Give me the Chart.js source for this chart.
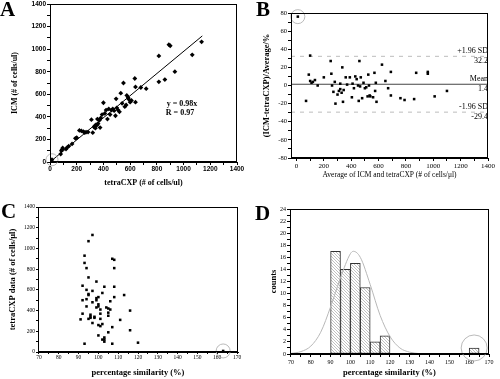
<!DOCTYPE html>
<html>
<head>
<meta charset="utf-8">
<script src="https://cdn.jsdelivr.net/npm/chart.js@4.4.1/dist/chart.umd.min.js"></script>
<style>
  html, body { margin: 0; padding: 0; background: #fff; }
  #wrap { position: relative; width: 500px; height: 379px; overflow: hidden; }
  .panel { position: absolute; }
</style>
</head>
<body>
<div id="wrap">
  <div class="panel" style="left:0;top:0;width:250px;height:190px"><canvas id="cA"></canvas></div>
  <div class="panel" style="left:250px;top:0;width:250px;height:190px"><canvas id="cB"></canvas></div>
  <div class="panel" style="left:0;top:190px;width:250px;height:189px"><canvas id="cC"></canvas></div>
  <div class="panel" style="left:250px;top:190px;width:250px;height:189px"><canvas id="cD"></canvas></div>
</div>
<script>
// A: ICM vs tetraCXP (cells/ul)
const tetraA = [15, 80, 85, 90, 95, 120, 130, 140, 165, 190, 200, 220, 235, 250, 260, 270, 285, 310, 320, 330,
  335, 340, 345, 350, 355, 360, 370, 375, 380, 390, 400, 410, 420, 430, 440, 450, 460, 470, 480, 490,
  495, 500, 510, 520, 530, 540, 550, 560, 570, 575, 585, 590, 600, 610, 635, 640, 640, 680, 720, 815,
  815, 860, 890, 900, 935, 1065, 1135];
const icmA = [20, 70, 100, 110, 125, 115, 130, 140, 160, 210, 215, 280, 275, 270, 260, 265, 265, 375, 260, 310,
  320, 300, 330, 325, 380, 340, 370, 305, 390, 420, 525, 430, 460, 380, 470, 420, 460, 470, 455, 410,
  560, 480, 460, 445, 610, 520, 700, 490, 505, 590, 570, 555, 530, 545, 740, 665, 530, 660, 650, 940,
  710, 730, 1040, 1030, 800, 950, 1065];
const fitX = [0, 1140];
const fitY = [0, 1117];
const fitText = ['y = 0.98x', 'R = 0.97'];
const outlierA = [15, 20];

// B: Bland-Altman
const avgB = [10, 70, 90, 100, 100, 110, 120, 135, 155, 200, 250, 255, 260, 270, 280, 285, 300, 310, 320, 320,
  330, 335, 340, 345, 360, 370, 390, 405, 410, 420, 430, 440, 450, 455, 460, 465, 470, 480, 490, 500,
  510, 520, 525, 530, 535, 540, 560, 570, 575, 580, 585, 625, 650, 670, 690, 690, 760, 790, 860, 875,
  960, 960, 1010, 1100];
const diffB = [76, -17, 12, 33, 5, 3, 4, 6, 0, 9, 27, 13, 0, -7, 4, -20, -10, -6, 2, -4,
  -8, 20, -18, -5, 9, 1, 9, -13, 2, -3, 10, 7, 0, -17, 27, -1, 9, -14, 3, -3,
  -2, -12, 12, 0, -11, -12, -13, 14, -6, 3, -18, 23, 5, -3, -11, 15, -14, -16, -15, 14,
  15, 13, -12, -6];
const bandNames = ['+1.96 SD', 'Mean', '-1.96 SD'];
const bandValues = [32.2, 1.4, -29.4];
const bandSpan = [-40, 1400];
const outlierB = [10, 76];

// C: tetraCXP vs percentage similarity
const simC = [163, 91, 92, 92, 92, 93, 93, 93, 94, 94, 94, 94, 95, 95, 95, 95, 95, 96, 96, 96,
  97, 97, 97, 97, 98, 98, 99, 99, 99, 99, 100, 100, 100, 100, 100, 101, 101, 101, 101, 102,
  102, 102, 103, 103, 103, 103, 104, 105, 105, 105, 105, 106, 106, 107, 107, 107, 108, 108, 108, 108,
  111, 113, 116, 116, 120];
const tetraC = [10, 315, 640, 500, 370, 80, 860, 930, 810, 510, 440, 600, 1070, 560, 550, 720, 320, 340, 360, 330,
  280, 1130, 590, 480, 330, 340, 680, 500, 520, 430, 530, 460, 440, 260, 160, 250, 370, 320, 410, 570,
  120, 270, 630, 120, 100, 140, 430, 420, 190, 350, 380, 410, 490, 80, 240, 900, 810, 890, 630, 530,
  310, 550, 400, 210, 90];
const outlierC = [163, 10];

// D: histogram of percentage similarity
const binMid = [92.5, 97.5, 102.5, 107.5, 112.5, 117.5, 162.5];
const binCount = [17, 14, 15, 11, 2, 3, 1];
const curveX = [70, 75, 80, 85, 90, 95, 100, 101.5, 105, 110, 115, 120, 125, 130, 135];
const curveY = [0.1, 0.4, 1.3, 3.6, 7.8, 12.6, 16.6, 17, 16, 11.5, 6.4, 2.9, 1.0, 0.3, 0.05];
const outlierD = [162.5, 1];

const pairs = (xs, ys) => xs.map((x, i) => ({ x, y: ys[i] }));

Chart.defaults.font.family = 'Liberation Serif';
Chart.defaults.color = '#000';
Chart.defaults.animation = false;
Chart.defaults.plugins.legend.display = false;
Chart.defaults.plugins.tooltip.enabled = false;

// full box round the plot area
Chart.register({
  id: 'frame',
  afterDraw(chart) {
    const { ctx, chartArea: a } = chart;
    ctx.save();
    ctx.strokeStyle = '#000';
    ctx.lineWidth = 1;
    ctx.strokeRect(Math.round(a.left) + 0.5, Math.round(a.top) + 0.5, Math.round(a.right - a.left) - 1, Math.round(a.bottom - a.top) - 1);
    ctx.restore();
  }
});

// grey circles round the outliers
Chart.register({
  id: 'rings',
  afterDatasetsDraw(chart, args, opts) {
    const { ctx, scales: { x, y } } = chart;
    ctx.save();
    ctx.strokeStyle = '#a8a8a8';
    ctx.lineWidth = 0.8;
    (opts.list || []).forEach(r => {
      ctx.beginPath();
      ctx.arc(x.getPixelForValue(r.at[0]), y.getPixelForValue(r.at[1]), r.r, 0, Math.PI * 2);
      ctx.stroke();
    });
    ctx.restore();
  }
});

// panel letters and loose text
Chart.register({
  id: 'notes',
  afterDraw(chart, args, opts) {
    const ctx = chart.ctx;
    ctx.save();
    ctx.fillStyle = '#000';
    (opts.items || []).forEach(t => {
      ctx.font = t.font;
      ctx.textAlign = t.align || 'left';
      ctx.textBaseline = t.base || 'middle';
      ctx.fillText(t.text, t.x, t.y);
    });
    ctx.restore();
  }
});

const fixY = w => s => { s.width = w; s.paddingTop = 0; s.paddingBottom = 0; };
const fixX = h => s => { s.height = h; s.paddingLeft = 0; s.paddingRight = 0; };

function axis(o) {
  return {
    type: 'linear',
    min: o.min,
    max: o.max,
    offset: false,
    grid: { drawOnChartArea: false, drawTicks: true, tickLength: o.tick, color: '#000', offset: false },
    border: { display: true, color: '#000', width: 1 },
    ticks: {
      stepSize: o.step,
      includeBounds: false,
      autoSkip: false,
      maxRotation: 0,
      minRotation: 0,
      padding: o.pad,
      font: o.font,
      color: '#000',
      callback: v => (Math.abs(v % o.every) < 1e-6 ? String(v) : '')
    },
    title: { display: true, text: o.title, font: o.tfont, padding: o.tpad, color: '#000' },
    afterFit: o.fit
  };
}

const letter = (text, x, y) => ({ text, x, y, font: 'bold 21px "Liberation Serif"', base: 'alphabetic' });

// ---- A ----
new Chart(document.getElementById('cA'), {
  type: 'scatter',
  data: {
    datasets: [
      { data: pairs(tetraA, icmA), pointStyle: 'rectRot', radius: 2.4, backgroundColor: '#000', borderColor: '#000', borderWidth: 0 },
      { data: pairs(fitX, fitY), showLine: true, pointRadius: 0, borderColor: '#000', borderWidth: 1 }
    ]
  },
  options: {
    responsive: true,
    maintainAspectRatio: false,
    layout: { padding: { left: 0, top: 2, right: 13, bottom: 0 } },
    scales: {
      x: axis({ min: 0, max: 1400, step: 100, every: 200, tick: 3, pad: 0,
        font: { size: 6.5, weight: 'bold', family: 'Liberation Sans' },
        title: 'tetraCXP (# of cells/ul)', tfont: { size: 8, weight: 'bold' }, tpad: { top: 0, bottom: 2 }, fit: fixX(28) }),
      y: axis({ min: 0, max: 1400, step: 100, every: 200, tick: 3, pad: 1,
        font: { size: 6.5, weight: 'bold', family: 'Liberation Sans' },
        title: 'ICM (# of cells/ul)', tfont: { size: 8, weight: 'bold' }, tpad: { top: 10, bottom: 0 }, fit: fixY(50) })
    },
    plugins: {
      rings: { list: [{ at: outlierA, r: 6 }] },
      notes: { items: [
        letter('A', 0, 16),
        { text: fitText[0], x: 182, y: 104, font: 'bold 8px "Liberation Serif"', align: 'center' },
        { text: fitText[1], x: 180, y: 113, font: 'bold 8px "Liberation Serif"', align: 'center' }
      ] }
    }
  }
});

// ---- B ----
const bandPlugin = {
  id: 'bandLabels',
  afterDatasetsDraw(chart) {
    const { ctx, chartArea: a, scales: { y } } = chart;
    ctx.save();
    ctx.font = '8px "Liberation Serif"';
    ctx.fillStyle = '#000';
    ctx.textAlign = 'right';
    bandValues.forEach((v, i) => {
      const py = y.getPixelForValue(v);
      ctx.textBaseline = 'bottom';
      ctx.fillText(bandNames[i], a.right, py - 1);
      ctx.textBaseline = 'top';
      ctx.fillText(String(v), a.right, py + 1);
    });
    ctx.restore();
  }
};

new Chart(document.getElementById('cB'), {
  type: 'scatter',
  data: {
    datasets: [
      { data: pairs(avgB, diffB), pointStyle: 'rect', radius: 1.8, backgroundColor: '#000', borderColor: '#000', borderWidth: 0 },
      ...bandValues.map((v, i) => ({
        data: pairs(bandSpan, [v, v]), showLine: true, pointRadius: 0,
        borderColor: i === 1 ? '#444' : '#bcbcbc', borderWidth: i === 1 ? 1.2 : 1,
        borderDash: i === 1 ? [] : [4, 5]
      }))
    ]
  },
  options: {
    responsive: true,
    maintainAspectRatio: false,
    layout: { padding: { left: 0, top: 13, right: 12, bottom: 0 } },
    scales: {
      x: axis({ min: bandSpan[0], max: bandSpan[1], step: 100, every: 200, tick: 3, pad: 1,
        font: { size: 7 }, title: 'Average of ICM and tetraCXP (# of cells/\u03bcl)',
        tfont: { size: 7.5 }, tpad: { top: 0, bottom: 10 }, fit: fixX(32) }),
      y: axis({ min: -80, max: 80, step: 10, every: 20, tick: 3, pad: 1,
        font: { size: 6.5 }, title: '(ICM-tetraCXP)/Average/%',
        tfont: { size: 8.5, weight: 'bold' }, tpad: { top: 12, bottom: 0 }, fit: fixY(41) })
    },
    plugins: {
      rings: { list: [{ at: outlierB, r: 7 }] },
      notes: { items: [letter('B', 6, 16)] }
    }
  },
  plugins: [bandPlugin]
});

// ---- C ----
new Chart(document.getElementById('cC'), {
  type: 'scatter',
  data: {
    datasets: [
      { data: pairs(simC, tetraC), pointStyle: 'rect', radius: 1.8, backgroundColor: '#000', borderColor: '#000', borderWidth: 0 }
    ]
  },
  options: {
    responsive: true,
    maintainAspectRatio: false,
    layout: { padding: { left: 0, top: 17, right: 12, bottom: 0 } },
    scales: {
      x: axis({ min: 69.5, max: 170.5, step: 5, every: 10, tick: 2, pad: 0,
        font: { size: 5.5 }, title: 'percentage similarity (%)',
        tfont: { size: 8.5, weight: 'bold' }, tpad: { top: 0, bottom: 1 }, fit: fixX(27) }),
      y: axis({ min: 0, max: 1400, step: 100, every: 200, tick: 2, pad: 1,
        font: { size: 5.5 }, title: 'tetraCXP data (# of cells/\u03bcl)',
        tfont: { size: 8.5, weight: 'bold' }, tpad: { top: 8, bottom: 0 }, fit: fixY(38) })
    },
    plugins: {
      rings: { list: [{ at: outlierC, r: 7 }] },
      notes: { items: [letter('C', 1, 28)] }
    }
  }
});

// ---- D ----
const cD = document.getElementById('cD');
const hatch = (() => {
  const c = document.createElement('canvas');
  c.width = 3; c.height = 3;
  const g = c.getContext('2d');
  g.fillStyle = '#fff';
  g.fillRect(0, 0, 3, 3);
  g.strokeStyle = '#a6a6a6';
  g.lineWidth = 0.7;
  g.beginPath(); g.moveTo(-1, -1); g.lineTo(4, 4); g.stroke();
  return cD.getContext('2d').createPattern(c, 'repeat');
})();

new Chart(cD, {
  type: 'bar',
  data: {
    datasets: [
      { type: 'line', data: pairs(curveX, curveY), borderColor: '#b8b8b8', borderWidth: 1, pointRadius: 0,
        cubicInterpolationMode: 'monotone', order: 0 },
      { type: 'bar', data: pairs(binMid, binCount), backgroundColor: hatch, borderColor: '#333', borderWidth: 1,
        borderSkipped: false, barPercentage: 1, categoryPercentage: 1, order: 1 }
    ]
  },
  options: {
    responsive: true,
    maintainAspectRatio: false,
    layout: { padding: { left: 0, top: 19, right: 11, bottom: 0 } },
    scales: {
      x: axis({ min: 69.5, max: 170, step: 5, every: 10, tick: 3, pad: 2,
        font: { size: 6 }, title: 'percentage similarity (%)',
        tfont: { size: 8.5, weight: 'bold' }, tpad: { top: 0, bottom: 1 }, fit: fixX(25) }),
      y: axis({ min: 0, max: 24, step: 1, every: 2, tick: 3, pad: 1,
        font: { size: 6 }, title: 'counts',
        tfont: { size: 8.5, weight: 'bold' }, tpad: { top: 19, bottom: 0 }, fit: fixY(40) })
    },
    plugins: {
      rings: { list: [{ at: outlierD, r: 13 }] },
      notes: { items: [letter('D', 5, 30)] }
    }
  }
});
</script>
</body>
</html>
